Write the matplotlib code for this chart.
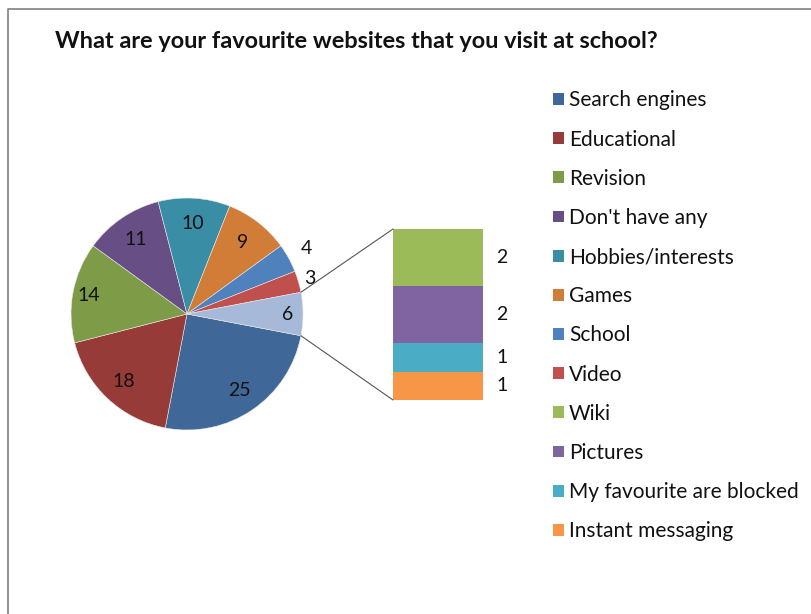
import numpy as np
import matplotlib
matplotlib.use("Agg")
import matplotlib.pyplot as plt
from matplotlib.patches import Patch, ConnectionPatch
from matplotlib.lines import Line2D

plt.rcParams['font.family'] = ['Lato', 'DejaVu Sans']

title = "What are your favourite websites that you visit at school?"
pie_labels = ["Search engines", "Educational", "Revision", "Don't have any",
              "Hobbies/interests", "Games", "School", "Video", "Other"]
pie_values = [25, 18, 14, 11, 10, 9, 4, 3, 6]
pie_colors = ['#3F6797', '#973B38', '#7E9B47', '#674F86', '#398EA6',
              '#D17D37', '#4F81BD', '#C0504D', '#A7B9D9']
bar_labels = ["Instant messaging", "My favourite are blocked", "Pictures", "Wiki"]
bar_values = [1, 1, 2, 2]
bar_colors = ['#F79646', '#4BACC6', '#8064A2', '#9BBB59']
legend_labels = pie_labels[:-1] + bar_labels[::-1]
legend_colors = pie_colors[:-1] + bar_colors[::-1]

W, H = 812, 614
fig = plt.figure(figsize=(W / 100, H / 100), dpi=100)
fig.patch.set_facecolor('white')

def px_axes(x0, y0, w, h):
    return fig.add_axes([x0 / W, 1 - (y0 + h) / H, w / W, h / H])

# pie
cx, cy, r = 187, 314, 116
axp = px_axes(cx - r, cy - r, 2 * r, 2 * r)
other_frac = pie_values[-1] / sum(pie_values)
start = -other_frac * 360 / 2
wedges, _ = axp.pie(pie_values, colors=pie_colors, startangle=start,
                    counterclock=False, radius=1,
                    wedgeprops=dict(linewidth=0.4, edgecolor='#E8E8E8'))
axp.set_xlim(-1, 1)
axp.set_ylim(-1, 1)
axp.set_aspect('equal')
axp.axis('off')

dists = [0.8, 0.8, 0.86, 0.78, 0.78, 0.78, 1.17, 1.1, 0.87]
for w, v, d in zip(wedges, pie_values, dists):
    mid = np.deg2rad((w.theta1 + w.theta2) / 2)
    axp.text(d * np.cos(mid), d * np.sin(mid), str(v), ha='center', va='center',
             fontsize=14, color='#111111')

# bar of "Other"
axb = px_axes(393, 229, 90, 171)
bottom = 0
for v, c in zip(bar_values, bar_colors):
    axb.bar(0, v, bottom=bottom, width=1, color=c, linewidth=0)
    axb.text(0.5 + 0.21, bottom + v / 2, str(v), ha='center', va='center',
             fontsize=14, color='#111111', transform=axb.transData, clip_on=False)
    bottom += v
axb.set_xlim(-0.5, 0.5)
axb.set_ylim(0, sum(bar_values))
axb.axis('off')

# connectors
th1 = np.deg2rad(wedges[-1].theta1)
th2 = np.deg2rad(wedges[-1].theta2)
for th, yb in [(max(th1, th2), sum(bar_values)), (min(th1, th2), 0)]:
    con = ConnectionPatch(xyA=(np.cos(th), np.sin(th)), coordsA=axp.transData,
                          xyB=(-0.5, yb), coordsB=axb.transData,
                          color='#555555', linewidth=0.8)
    fig.add_artist(con)

# legend
handles = [Patch(facecolor=c, edgecolor='none') for c in legend_colors]
leg = fig.legend(handles, legend_labels, loc='upper left',
                 bbox_to_anchor=(545 / W, 1 - 82 / H), frameon=False,
                 fontsize=15, handlelength=0.5, handleheight=0.5,
                 handletextpad=0.25, labelspacing=0.92, borderaxespad=0)
for t in leg.get_texts():
    t.set_color('#111111')

# title
fig.text(55 / W, 1 - 42 / H, title, ha='left', va='center', fontsize=16.9,
         fontweight='bold', color='#111111')

# frame
fig.add_artist(Line2D([7.5 / W, 7.5 / W, 1], [0, 1 - 9 / H, 1 - 9 / H],
                      transform=fig.transFigure, color='#8A8A8A', linewidth=1.3))

fig.savefig('out.png', dpi=100)
